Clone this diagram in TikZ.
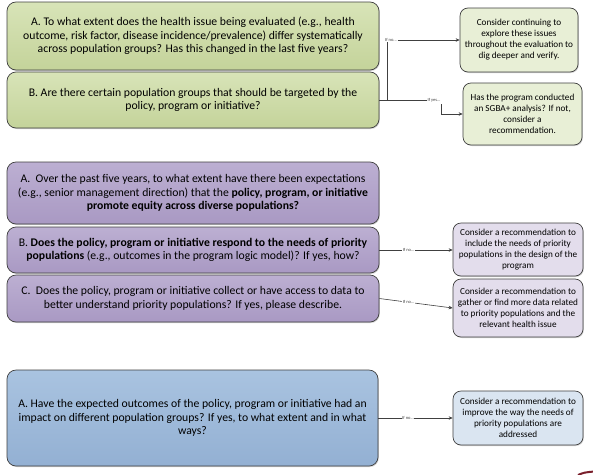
\documentclass[tikz,border=0pt]{standalone}
\usepackage{fontspec}
\setmainfont{Carlito}
\usetikzlibrary{shadows,arrows.meta}
\definecolor{edge}{HTML}{404040}
\definecolor{gtop}{HTML}{D8E4B8}
\definecolor{gbot}{HTML}{C4D39A}
\definecolor{glight}{HTML}{E8EFD6}
\definecolor{ptop}{HTML}{BCAFD2}
\definecolor{pbot}{HTML}{A999C3}
\definecolor{plight}{HTML}{E3DDEC}
\definecolor{btop}{HTML}{A9C3E0}
\definecolor{bbot}{HTML}{93B0D3}
\definecolor{blight}{HTML}{DAE5F1}
\definecolor{darkred}{HTML}{7A1F2B}
\tikzset{
  mainbox/.style={draw=edge, line width=0.7pt, rounded corners=9pt, align=center,
    font=\fontsize{11.7}{13.4}\selectfont, inner sep=2pt,
    drop shadow={opacity=0.35, shadow xshift=0.8pt, shadow yshift=-1pt}},
  sidebox/.style={draw=edge, line width=0.7pt, rounded corners=8pt, align=center,
    font=\fontsize{9.2}{11}\selectfont, inner sep=2pt,
    drop shadow={opacity=0.35, shadow xshift=0.8pt, shadow yshift=-1pt}},
  gmain/.style={mainbox, top color=gtop, bottom color=gbot},
  pmain/.style={mainbox, top color=ptop, bottom color=pbot},
  bmain/.style={mainbox, top color=btop, bottom color=bbot},
  gside/.style={sidebox, fill=glight},
  pside/.style={sidebox, fill=plight},
  bside/.style={sidebox, fill=blight},
  conn/.style={draw=edge, line width=0.6pt},
  arr/.style={conn, -{Stealth[length=4pt,width=3.5pt]}},
  lbl/.style={font=\fontsize{4.5}{5}\selectfont, inner sep=0.5pt, fill=white, text=edge}
}
\begin{document}
\begin{tikzpicture}[x=1pt,y=-1pt]
\useasboundingbox (0,0) rectangle (593,474);
\fill[white] (0,0) rectangle (593,474);

% green section
\node[gmain, minimum width=372pt, minimum height=68pt] (gA) at (193,36)
  {A. To what extent does the health issue being evaluated (e.g., health\\
   outcome, risk factor, disease incidence/prevalence) differ systematically\\
   across population groups? Has this changed in the last five years?};
\node[gmain, minimum width=372pt, minimum height=56pt] (gB) at (193,100)
  {B. Are there certain population groups that should be targeted by the\\
   policy, program or initiative?};
\node[gside, minimum width=118pt, minimum height=64pt] (g1) at (519,40)
  {Consider continuing to\\ explore these issues\\ throughout the evaluation to\\ dig deeper and verify.};
\node[gside, minimum width=119pt, minimum height=62pt] (g2) at (522.5,114)
  {Has the program conducted\\ an SGBA+ analysis? If not,\\ consider a\\ recommendation.};

\coordinate (j) at (387,100);
\node[lbl, anchor=west] (ln1) at (384.5,40) {If no...};
\node[lbl, anchor=west] (ly) at (427,100) {If yes...};
\draw[conn] (gB.east) -- (j) -- (ln1.south -| j);
\draw[arr] (ln1.east) -- (g1.west |- ln1.east);
\draw[conn] (j) -- (ly.west);
\coordinate (yd) at (441,104);
\draw[arr] (yd) |- (g2.west);

% purple section
\node[pmain, minimum width=372pt, minimum height=62pt] (pA) at (193,193)
  {A.\ \ Over the past five years, to what extent have there been expectations\\
   (e.g., senior management direction) that the \textbf{policy, program, or initiative}\\
   \textbf{promote equity across diverse populations?}};
\node[pmain, minimum width=372pt, minimum height=46pt] (pB) at (193,250)
  {B. \textbf{Does the policy, program or initiative respond to the needs of priority}\\
   \textbf{populations} (e.g., outcomes in the program logic model)? If yes, how?};
\node[pmain, minimum width=372pt, minimum height=47pt] (pC) at (193,298.5)
  {C.\ \ Does the policy, program or initiative collect or have access to data to\\
   better understand priority populations? If yes, please describe.};
\node[pside, minimum width=130pt, minimum height=53pt] (p1) at (518,249.5)
  {Consider a recommendation to\\ include the needs of priority\\ populations in the design of the\\ program};
\node[pside, minimum width=130pt, minimum height=58pt] (p2) at (518,308)
  {Consider a recommendation to\\ gather or find more data related\\ to priority populations and the\\ relevant health issue};

\draw[arr] (pB.east) -- node[lbl, pos=0.4] {If no...} (p1.west |- pB.east);
\draw[arr] (pC.east) -- node[lbl, pos=0.4] {If no...} (p2.west);

% blue section
\node[bmain, minimum width=371pt, minimum height=96pt] (bA) at (192.5,418)
  {A. Have the expected outcomes of the policy, program or initiative had an\\
   impact on different population groups? If yes, to what extent and in what\\
   ways?};
\node[bside, minimum width=130pt, minimum height=54pt] (b1) at (518,418)
  {Consider a recommendation to\\ improve the way the needs of\\ priority populations are\\ addressed};
\draw[arr] (bA.east) -- node[lbl, pos=0.4] {If no...} (b1.west);

% fragment at corner
\draw[darkred, line width=2pt] (578,475) .. controls (584,472.5) .. (594,471.5);
\end{tikzpicture}
\end{document}
